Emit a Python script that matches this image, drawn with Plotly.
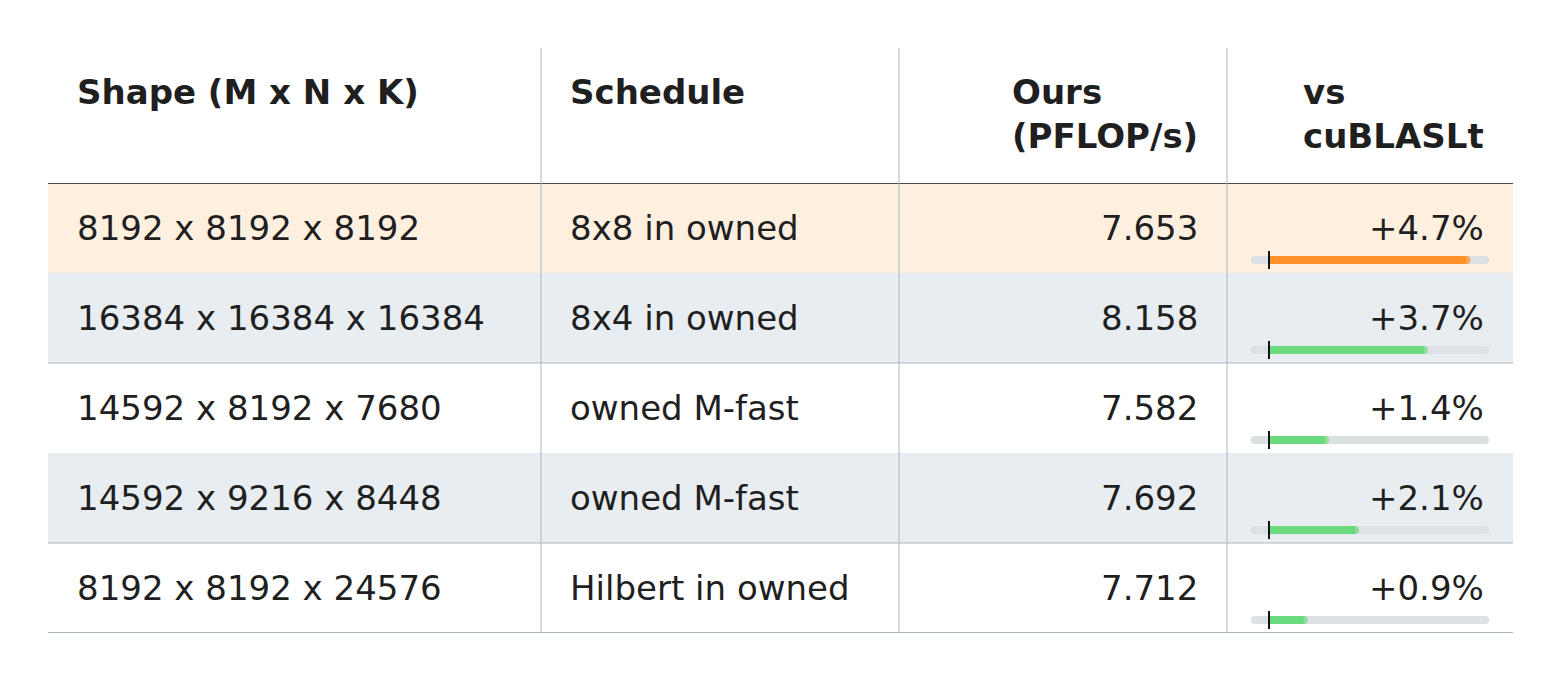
# GEMM benchmark table: shapes, schedules, throughput and gain vs cuBLASLt

import plotly.graph_objects as go

shapes_mnk = ["8192 x 8192 x 8192", "16384 x 16384 x 16384", "14592 x 8192 x 7680",
              "14592 x 9216 x 8448", "8192 x 8192 x 24576"]
schedules = ["8x8 in owned", "8x4 in owned", "owned M-fast", "owned M-fast", "Hilbert in owned"]
pflops = [7.653, 8.158, 7.582, 7.692, 7.712]
gain_pct = [4.7, 3.7, 1.4, 2.1, 0.9]
headers = ["Shape (M x N x K)", "Schedule", "Ours<br>(PFLOP/s)", "vs<br>cuBLASLt"]
highlight_row = 0

W, H = 1560, 682
PAGE_OFF = 8  # body margin of the html page
FONT = "DejaVu Sans"
TEXT = "#1f1f1f"
HL_FILL = "#feefdf"
STRIPE = "#e8edf1"
TRACK = "#dce1e6"
ORANGE = "#ff922b"
GREEN = "#69db7c"
GRID = "#adb5bd"

# table geometry in pixels (screen coordinates)
LEFT, RIGHT = 48, 1513
TOP, HEAD_BOTTOM, ROW_H = 48, 183, 90
COL_SPLITS = [541, 899, 1227]
n = len(shapes_mnk)
BOTTOM = HEAD_BOTTOM + ROW_H * n

def px(x):
    return (x - PAGE_OFF) / W

def py(y):
    return 1 - (y - PAGE_OFF) / H

# bar axis: zero at 1269 px, 42.9 px per percent
ZERO_PX, PX_PER = 1269, 42.9
AX_L, AX_R = 1240, 1500
TRACK_LO, TRACK_HI = -0.33, 5.04
BAR_OFF = 32 / ROW_H
CAP = 4 / PX_PER  # round cap radius in data units

fig = go.Figure()

for i, v in enumerate(gain_pct):
    yb = i + BAR_OFF
    fig.add_trace(go.Scatter(x=[TRACK_LO, TRACK_HI], y=[yb, yb], mode="lines+markers",
                             line=dict(color=TRACK, width=8),
                             marker=dict(color=TRACK, size=8, line=dict(width=0)),
                             hoverinfo="skip", showlegend=False))
    col = ORANGE if i == highlight_row else GREEN
    fig.add_trace(go.Scatter(x=[0, v - CAP], y=[yb, yb], mode="lines+markers",
                             line=dict(color=col, width=8),
                             marker=dict(color=col, size=[0, 8], line=dict(width=0)),
                             hovertemplate=f"{v:+.1f}%<extra></extra>", showlegend=False))
    fig.add_trace(go.Scatter(x=[0, 0], y=[yb - 0.1, yb + 0.1], mode="lines",
                             line=dict(color="#111111", width=2),
                             hoverinfo="skip", showlegend=False))

shapes = []
for i in range(n):
    fill = None
    if i == highlight_row:
        fill = HL_FILL
    elif i % 2 == 1:
        fill = STRIPE
    if fill:
        shapes.append(dict(type="rect", xref="paper", yref="y", x0=px(LEFT), x1=px(RIGHT),
                           y0=i - 0.5, y1=i + 0.5, fillcolor=fill, line=dict(width=0),
                           layer="below"))
for i in range(n):
    if i % 2 == 1 and i < n - 1:
        shapes.append(dict(type="line", xref="paper", yref="y", x0=px(LEFT), x1=px(RIGHT),
                           y0=i + 0.5, y1=i + 0.5, line=dict(color=GRID, width=1)))
shapes.append(dict(type="line", xref="paper", yref="y", x0=px(LEFT), x1=px(RIGHT),
                   y0=n - 0.5, y1=n - 0.5, line=dict(color=GRID, width=2)))
shapes.append(dict(type="line", xref="paper", yref="y", x0=px(LEFT), x1=px(RIGHT),
                   y0=-0.5, y1=-0.5, line=dict(color="#111111", width=1.3)))
for c in COL_SPLITS:
    shapes.append(dict(type="line", xref="paper", yref="paper", x0=px(c), x1=px(c),
                       y0=py(TOP), y1=py(BOTTOM), line=dict(color=GRID, width=1)))

col_x = [75, 568, 1200, 1486]
col_anchor = ["left", "left", "right", "right"]

annotations = []
for j, h in enumerate(headers):
    annotations.append(dict(text="<b>" + h + "</b>", xref="paper", yref="paper",
                            x=px(col_x[j]), y=py(70), xanchor=col_anchor[j], yanchor="top",
                            align="left", showarrow=False,
                            font=dict(family=FONT, size=34, color=TEXT)))

for i in range(n):
    cells = [shapes_mnk[i], schedules[i], f"{pflops[i]:.3f}", f"{gain_pct[i]:+.1f}%"]
    for j, t in enumerate(cells):
        annotations.append(dict(text=t, xref="paper", yref="y", x=px(col_x[j]), y=i,
                                xanchor=col_anchor[j], yanchor="middle", showarrow=False,
                                font=dict(family=FONT, size=34, color=TEXT)))

fig.update_layout(
    width=W, height=H,
    margin=dict(l=0, r=0, t=0, b=0),
    paper_bgcolor="white", plot_bgcolor="rgba(0,0,0,0)",
    xaxis=dict(domain=[px(AX_L), px(AX_R)],
               range=[(AX_L - ZERO_PX) / PX_PER, (AX_R - ZERO_PX) / PX_PER],
               visible=False, fixedrange=True),
    yaxis=dict(domain=[py(BOTTOM), py(HEAD_BOTTOM)], range=[n - 0.5, -0.5],
               visible=False, fixedrange=True),
    shapes=shapes,
    annotations=annotations,
    font=dict(family=FONT),
)

fig.write_html("out.html")
